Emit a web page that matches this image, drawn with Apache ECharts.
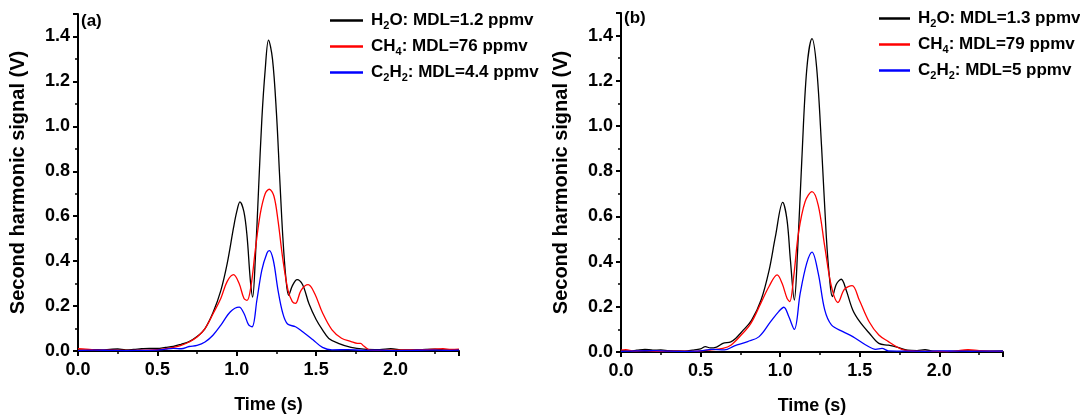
<!DOCTYPE html>
<html>
<head>
<meta charset="utf-8">
<script src="https://cdn.jsdelivr.net/npm/echarts@6/dist/echarts.min.js"></script>
<style>
html,body{margin:0;padding:0;background:#fff;}
#c{width:1080px;height:416px;}
</style>
</head>
<body>
<div id="c"></div>
<script>
// ---------------- data ----------------
// Panel (a)
const T_A_H2O = [0.00,0.05,0.10,0.15,0.20,0.25,0.30,0.35,0.40,0.45,0.50,0.55,0.60,0.65,0.70,0.75,0.80,0.85,0.90,0.94,0.98,1.00,1.02,1.045,1.065,1.085,1.10,1.117,1.138,1.158,1.179,1.20,1.225,1.25,1.27,1.29,1.31,1.327,1.35,1.38,1.415,1.455,1.50,1.54,1.58,1.64,1.72,1.80,1.90,1.97,2.05,2.15,2.25,2.32,2.40];
const V_A_H2O = [0.005,0.004,0.006,0.005,0.007,0.009,0.005,0.007,0.010,0.012,0.012,0.016,0.020,0.030,0.042,0.064,0.100,0.170,0.270,0.390,0.550,0.620,0.664,0.620,0.510,0.320,0.240,0.410,0.730,1.030,1.250,1.384,1.300,1.060,0.780,0.510,0.320,0.248,0.290,0.318,0.295,0.210,0.140,0.094,0.056,0.034,0.016,0.008,0.006,0.010,0.005,0.006,0.008,0.005,0.006];

const T_A_CH4 = [0.00,0.05,0.10,0.20,0.30,0.40,0.50,0.55,0.60,0.65,0.70,0.75,0.80,0.85,0.90,0.94,0.98,1.015,1.045,1.065,1.09,1.117,1.148,1.179,1.205,1.234,1.26,1.29,1.323,1.35,1.37,1.405,1.45,1.49,1.54,1.60,1.66,1.72,1.76,1.78,1.80,1.84,1.90,2.00,2.10,2.20,2.30,2.35,2.40];
const V_A_CH4 = [0.010,0.008,0.005,0.004,0.003,0.004,0.006,0.010,0.016,0.025,0.040,0.062,0.100,0.165,0.235,0.310,0.340,0.300,0.235,0.225,0.290,0.450,0.610,0.700,0.720,0.690,0.580,0.410,0.270,0.220,0.212,0.270,0.295,0.257,0.170,0.094,0.057,0.042,0.034,0.034,0.022,0.004,0.003,0.004,0.005,0.006,0.010,0.007,0.008];

const T_A_C2H2 = [0.00,0.10,0.20,0.30,0.40,0.50,0.55,0.60,0.65,0.70,0.75,0.80,0.85,0.90,0.96,1.015,1.045,1.075,1.097,1.127,1.158,1.19,1.205,1.23,1.26,1.29,1.32,1.37,1.415,1.48,1.54,1.60,1.70,1.80,1.90,2.00,2.10,2.20,2.30,2.40];
const V_A_C2H2 = [0.002,0.004,0.003,0.002,0.003,0.004,0.008,0.012,0.010,0.020,0.025,0.040,0.070,0.115,0.175,0.195,0.168,0.116,0.108,0.227,0.360,0.435,0.447,0.405,0.270,0.168,0.120,0.108,0.086,0.050,0.016,0.005,0.006,0.003,0.004,0.002,0.003,0.004,0.003,0.004];

// Panel (b)
const T_B_H2O = [0.00,0.05,0.10,0.15,0.20,0.25,0.30,0.35,0.40,0.45,0.50,0.53,0.56,0.60,0.64,0.69,0.72,0.76,0.82,0.88,0.93,0.97,1.016,1.043,1.064,1.089,1.109,1.136,1.167,1.20,1.229,1.26,1.29,1.311,1.328,1.353,1.384,1.414,1.456,1.50,1.56,1.62,1.68,1.74,1.80,1.86,1.91,1.96,2.05,2.15,2.25,2.40];
const V_B_H2O = [0.006,0.004,0.008,0.012,0.008,0.009,0.006,0.005,0.004,0.008,0.014,0.024,0.018,0.022,0.038,0.045,0.060,0.090,0.140,0.230,0.360,0.510,0.662,0.585,0.410,0.230,0.440,0.850,1.250,1.387,1.260,0.910,0.510,0.320,0.245,0.300,0.322,0.275,0.186,0.134,0.083,0.038,0.030,0.020,0.008,0.006,0.010,0.004,0.003,0.005,0.004,0.005];

const T_B_CH4 = [0.00,0.03,0.08,0.15,0.25,0.35,0.45,0.55,0.64,0.69,0.755,0.816,0.878,0.93,0.981,1.012,1.043,1.06,1.085,1.115,1.157,1.20,1.239,1.28,1.322,1.363,1.404,1.452,1.497,1.559,1.62,1.68,1.74,1.78,1.85,1.95,2.05,2.10,2.18,2.25,2.32,2.40];
const V_B_CH4 = [0.008,0.010,0.004,0.006,0.003,0.004,0.003,0.008,0.016,0.030,0.075,0.127,0.215,0.290,0.341,0.304,0.238,0.223,0.334,0.526,0.666,0.710,0.650,0.467,0.290,0.219,0.278,0.294,0.230,0.134,0.075,0.046,0.020,0.008,0.004,0.003,0.002,0.004,0.010,0.006,0.004,0.003];

const T_B_C2H2 = [0.00,0.10,0.20,0.30,0.40,0.50,0.57,0.65,0.713,0.796,0.868,0.94,0.992,1.023,1.054,1.089,1.126,1.167,1.20,1.239,1.28,1.322,1.394,1.456,1.538,1.60,1.64,1.68,1.80,1.90,2.00,2.10,2.20,2.30,2.40];
const V_B_C2H2 = [0.003,0.005,0.006,0.004,0.003,0.005,0.012,0.009,0.027,0.046,0.068,0.134,0.180,0.198,0.157,0.100,0.260,0.393,0.442,0.349,0.186,0.120,0.090,0.068,0.031,0.012,0.016,0.005,0.004,0.003,0.005,0.004,0.003,0.004,0.004];

const LEGEND_A = ['H2O: MDL=1.2 ppmv', 'CH4: MDL=76 ppmv', 'C2H2: MDL=4.4 ppmv'];
const LEGEND_B = ['H2O: MDL=1.3 ppmv', 'CH4: MDL=79 ppmv', 'C2H2: MDL=5 ppmv'];
const PANEL_LABELS = ['(a)', '(b)'];
const X_TITLE = 'Time (s)';
const Y_TITLE = 'Second harmonic signal (V)';
const COLORS = ['#000000', '#ff0000', '#0000ff'];

// ---------------- chart ----------------
const FONT = '"Liberation Sans", Arial, sans-serif';

function zip(t, v) { return t.map((x, i) => [x, v[i]]); }

function richName(name) {
  // digits inside the formula part become subscripts
  const idx = name.indexOf(':');
  const formula = name.slice(0, idx);
  const rest = name.slice(idx);
  let out = '';
  for (const ch of formula) {
    if (/[0-9]/.test(ch)) out += '{s|' + ch + '}';
    else out += '{n|' + ch + '}';
  }
  return out + '{n|' + rest + '}';
}

const grids = [
  { left: 78, top: 14, width: 381, height: 337, containLabel: false, outerBoundsMode: 'none' },
  { left: 621, top: 13, width: 382, height: 339, containLabel: false, outerBoundsMode: 'none' }
];

function xAxis(gi) {
  return {
    type: 'value', gridIndex: gi, min: 0, max: 2.4, interval: 0.5,
    name: X_TITLE, nameLocation: 'middle', nameGap: 45,
    nameTextStyle: { fontFamily: FONT, fontWeight: 'bold', fontSize: 18, color: '#000' },
    axisLine: { show: true, onZero: false, lineStyle: { color: '#000', width: 2 } },
    axisTick: { show: true, inside: false, length: 5, lineStyle: { color: '#000', width: 2 } },
    minorTick: { show: true, splitNumber: 2, length: 3, lineStyle: { color: '#000', width: 1.5 } },
    splitLine: { show: false },
    axisLabel: {
      margin: 10, showMaxLabel: false, color: '#000',
      fontFamily: FONT, fontWeight: 'bold', fontSize: 18,
      formatter: v => v.toFixed(1)
    }
  };
}
function yAxis(gi) {
  return {
    type: 'value', gridIndex: gi, min: 0, max: 1.5, interval: 0.2,
    name: Y_TITLE, nameLocation: 'middle', nameGap: 50, nameRotate: 90,
    nameTextStyle: { fontFamily: FONT, fontWeight: 'bold', fontSize: 20, color: '#000' },
    axisLine: { show: true, onZero: false, lineStyle: { color: '#000', width: 2 } },
    axisTick: { show: true, inside: false, length: 5, lineStyle: { color: '#000', width: 2 } },
    minorTick: { show: true, splitNumber: 2, length: 3, lineStyle: { color: '#000', width: 1.5 } },
    splitLine: { show: false },
    axisLabel: {
      margin: 8, showMaxLabel: false, color: '#000',
      fontFamily: FONT, fontWeight: 'bold', fontSize: 18,
      formatter: v => v.toFixed(1)
    }
  };
}

function lineSeries(name, gi, t, v, color) {
  return {
    name: name, type: 'line', xAxisIndex: gi, yAxisIndex: gi,
    data: zip(t, v), showSymbol: false, symbol: 'none', smooth: 0.35,
    color: color, lineStyle: { color: color, width: 1.3 }, clip: true,
    z: 3
  };
}

const richStyle = {
  n: { fontFamily: FONT, fontWeight: 'bold', fontSize: 17, color: '#000', lineHeight: 22 },
  s: { fontFamily: FONT, fontWeight: 'bold', fontSize: 11, color: '#000', lineHeight: 11, verticalAlign: 'bottom' }
};

function legend(names, left, top, w) {
  return {
    data: names, orient: 'vertical', left: left, top: top,
    itemWidth: w, itemHeight: 2.5, itemGap: 6.5, icon: 'rect',
    selectedMode: false, padding: 0,
    formatter: n => richName(n),
    textStyle: { rich: richStyle, padding: [0, 0, 0, 3] }
  };
}

const option = {
  backgroundColor: '#ffffff',
  animation: false,
  grid: grids,
  xAxis: [xAxis(0), xAxis(1)],
  yAxis: [yAxis(0), yAxis(1)],
  legend: [legend(LEGEND_A, 330, 12, 33), legend(LEGEND_B, 879, 10, 31)],
  graphic: [
    { type: 'text', left: 81, top: 13, style: { text: PANEL_LABELS[0], font: 'bold 17px ' + FONT, fill: '#000' } },
    { type: 'text', left: 624, top: 10, style: { text: PANEL_LABELS[1], font: 'bold 17px ' + FONT, fill: '#000' } }
  ],
  series: [
    lineSeries(LEGEND_A[0], 0, T_A_H2O, V_A_H2O, COLORS[0]),
    lineSeries(LEGEND_A[1], 0, T_A_CH4, V_A_CH4, COLORS[1]),
    lineSeries(LEGEND_A[2], 0, T_A_C2H2, V_A_C2H2, COLORS[2]),
    lineSeries(LEGEND_B[0], 1, T_B_H2O, V_B_H2O, COLORS[0]),
    lineSeries(LEGEND_B[1], 1, T_B_CH4, V_B_CH4, COLORS[1]),
    lineSeries(LEGEND_B[2], 1, T_B_C2H2, V_B_C2H2, COLORS[2])
  ]
};

const chart = echarts.init(document.getElementById('c'), null, { renderer: 'canvas' });
chart.setOption(option);
</script>
</body>
</html>
